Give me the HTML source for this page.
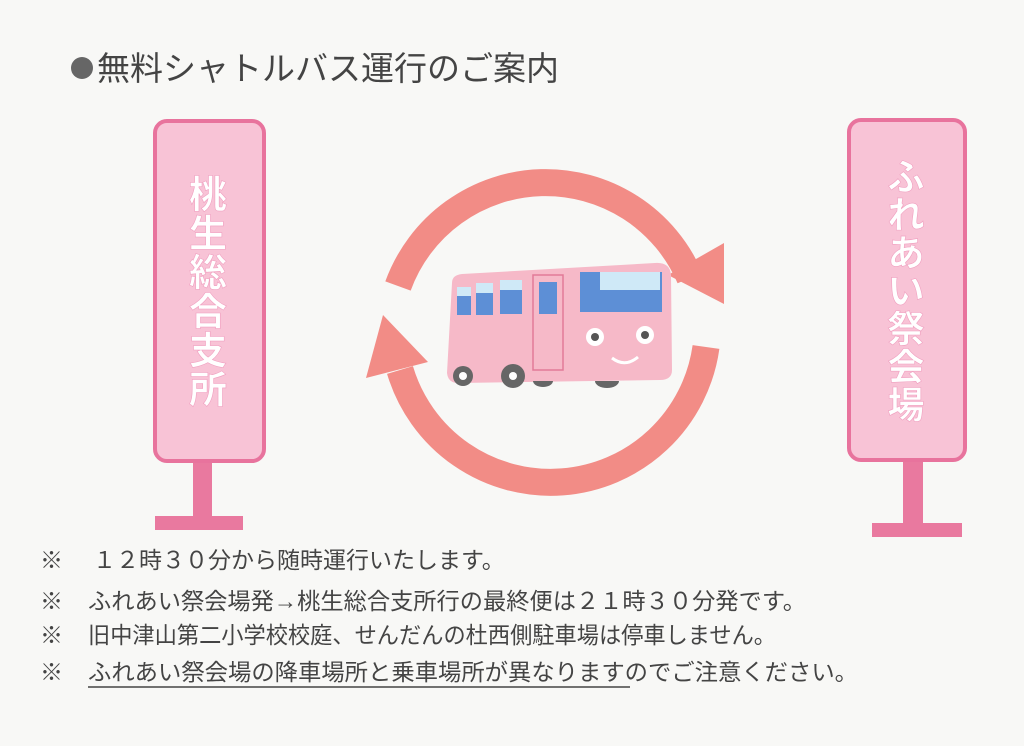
<!DOCTYPE html>
<html><head><meta charset="utf-8"><style>
body{margin:0;background:#f8f8f6;}
svg{display:block}
text{font-family:"Liberation Sans","Noto Sans CJK JP",sans-serif;}
</style></head><body>
<svg width="1024" height="746" viewBox="0 0 1024 746">
<rect width="1024" height="746" fill="#f8f8f6"/>
<circle cx="82" cy="68" r="11" fill="#666"/>
<text x="97" y="80" font-size="33" fill="#444">無料シャトルバス運行のご案内</text>

<!-- left sign -->
<rect x="193" y="455" width="19" height="62" fill="#e9799f"/>
<rect x="155" y="516" width="88" height="14" fill="#e9799f"/>
<rect x="155" y="121" width="109" height="340" rx="12" fill="#f8c3d6" stroke="#e8739d" stroke-width="4"/>
<g font-size="38" fill="#fff" text-anchor="middle" font-weight="bold" stroke="#f0a0c0" stroke-width="0.6">
<text x="208" y="208">桃</text><text x="208" y="247">生</text><text x="208" y="286">総</text>
<text x="208" y="325">合</text><text x="208" y="364">支</text><text x="208" y="403">所</text>
</g>

<!-- right sign -->
<rect x="903" y="455" width="20" height="70" fill="#e9799f"/>
<rect x="872" y="523" width="90" height="14" fill="#e9799f"/>
<rect x="849" y="120" width="116" height="340" rx="12" fill="#f8c3d6" stroke="#e8739d" stroke-width="4"/>
<g font-size="37" fill="#fff" text-anchor="middle" font-weight="bold" stroke="#f0a0c0" stroke-width="0.6">
<text x="906" y="190">ふ</text><text x="906" y="228">れ</text><text x="906" y="266">あ</text>
<text x="906" y="304">い</text><text x="906" y="342">祭</text><text x="906" y="380">会</text><text x="906" y="418">場</text>
</g>

<!-- ring arrows -->
<g fill="none" stroke="#f28c86" stroke-width="27">
<path d="M398 286 A157 157 0 0 1 690 278"/>
<path d="M706 347 A157 157 0 0 1 400 370"/>
</g>
<polygon points="668,275 724,243 724,304" fill="#f28c86"/>
<polygon points="366,378 383,315 428,362" fill="#f28c86"/>

<!-- bus -->
<g>
<path d="M452 283 Q452 275 462 274 L655 263 Q670 262 671 275 L672 370 Q672 380 660 380 L458 383 Q448 383 447 373 Z" fill="#f6b9c8"/>
<rect x="457" y="287" width="14" height="28" fill="#5d8fd6"/>
<rect x="457" y="287" width="14" height="9" fill="#cfe9f7"/>
<rect x="476" y="283" width="17" height="32" fill="#5d8fd6"/>
<rect x="476" y="283" width="17" height="10" fill="#cfe9f7"/>
<rect x="500" y="280" width="22" height="34" fill="#5d8fd6"/>
<rect x="500" y="280" width="22" height="10" fill="#cfe9f7"/>
<rect x="533" y="275" width="30" height="95" fill="none" stroke="#e27a98" stroke-width="1.5"/>
<rect x="539" y="282" width="18" height="32" fill="#5d8fd6"/>
<rect x="580" y="272" width="82" height="40" fill="#5d8fd6"/>
<rect x="600" y="272" width="60" height="18" fill="#cfe9f7"/>
<circle cx="595" cy="337" r="9" fill="#fff"/><circle cx="595" cy="337" r="4" fill="#555"/>
<circle cx="645" cy="335" r="9" fill="#fff"/><circle cx="645" cy="335" r="4" fill="#555"/>
<path d="M612 358 Q625 368 638 357" fill="none" stroke="#fff" stroke-width="3"/>
<circle cx="463" cy="376" r="10" fill="#666"/><circle cx="463" cy="376" r="4" fill="#fff"/>
<circle cx="513" cy="376" r="12" fill="#666"/><circle cx="513" cy="376" r="4" fill="#fff"/>
<path d="M533 381 a10 6 0 0 0 20 0 Z" fill="#666"/>
<path d="M595 381 a12 7 0 0 0 24 0 Z" fill="#666"/>
</g>

<!-- notes -->
<g font-size="23" fill="#444">
<text x="40" y="568">※</text><text x="93" y="568">１２時３０分から随時運行いたします。</text>
<text x="40" y="609">※</text><text x="88" y="609" textLength="718" lengthAdjust="spacingAndGlyphs">ふれあい祭会場発→桃生総合支所行の最終便は２１時３０分発です。</text>
<text x="40" y="643">※</text><text x="88" y="643" textLength="688" lengthAdjust="spacingAndGlyphs">旧中津山第二小学校校庭、せんだんの杜西側駐車場は停車しません。</text>
<text x="40" y="680">※</text><text x="88" y="680" textLength="770" lengthAdjust="spacingAndGlyphs">ふれあい祭会場の降車場所と乗車場所が異なりますのでご注意ください。</text>
</g>
<line x1="88" y1="687" x2="630" y2="687" stroke="#444" stroke-width="1.5"/>
</svg>
</body></html>
